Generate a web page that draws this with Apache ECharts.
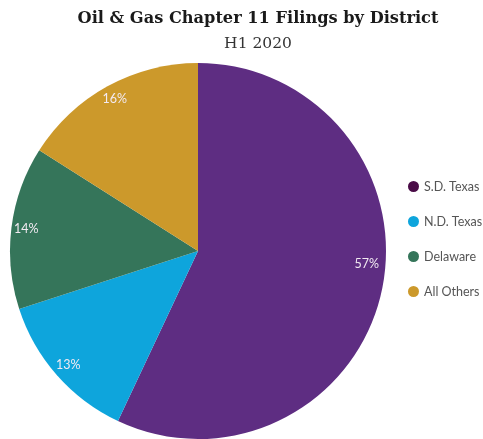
<!DOCTYPE html>
<html>
<head>
<meta charset="utf-8">
<script src="https://cdn.jsdelivr.net/npm/echarts@6/dist/echarts.min.js"></script>
<style>
  html, body { margin: 0; padding: 0; background: #fff; }
  #chart { width: 483px; height: 439px; }
</style>
</head>
<body>
<div id="chart"></div>
<script>
const districts = ["S.D. Texas", "N.D. Texas", "Delaware", "All Others"];
const shares = [57, 13, 14, 16];
const sliceColors = ["#5e2d82", "#0ea5dc", "#35755a", "#cc992b"];
const legendColors = ["#4a0c47", "#0ea5dc", "#35755a", "#cc992b"];
// spacer line height below each label, lifts the label by half of it
const labelLift = [50, 0, 0, 0];

const chart = echarts.init(document.getElementById("chart"));

chart.setOption({
  animation: false,
  title: {
    text: "Oil & Gas Chapter 11 Filings by District",
    subtext: "H1 2020",
    left: 253,
    textAlign: "center",
    top: 6,
    itemGap: 9,
    textStyle: { fontFamily: "DejaVu Serif", fontWeight: "bold", fontSize: 16.2, color: "#1a1a1a" },
    subtextStyle: { fontFamily: "DejaVu Serif", fontSize: 15.5, color: "#333" },
  },
  legend: {
    orient: "vertical",
    left: 403,
    top: 175,
    itemGap: 22,
    itemWidth: 11,
    itemHeight: 11,
    icon: "circle",
    textStyle: { fontFamily: "Lato", fontSize: 12.5, color: "#555" },
    data: districts.map((name, i) => ({ name, itemStyle: { color: legendColors[i] } })),
  },
  series: [
    {
      type: "pie",
      center: [198, 251],
      radius: [0, 188],
      startAngle: 90,
      clockwise: true,
      label: { show: false },
      labelLine: { show: false },
      emphasis: { disabled: true },
      data: districts.map((name, i) => ({
        name,
        value: shares[i],
        itemStyle: { color: sliceColors[i] },
      })),
    },
    {
      // ring used only to place the percentage labels near the rim
      type: "pie",
      center: [198, 251],
      radius: [152, 188],
      startAngle: 90,
      clockwise: true,
      silent: true,
      label: {
        position: "inside",
        rotate: 0,
        fontFamily: "Lato",
        fontSize: 12.5,
        color: "#f2eaf2",
      },
      labelLine: { show: false },
      emphasis: { disabled: true },
      data: districts.map((name, i) => ({
        name,
        value: shares[i],
        itemStyle: { color: "rgba(0,0,0,0)" },
        label: labelLift[i]
          ? {
              formatter: "{c}%\n{s|}",
              rich: { s: { lineHeight: labelLift[i] } },
            }
          : { formatter: "{c}%" },
      })),
    },
  ],
});
</script>
</body>
</html>
